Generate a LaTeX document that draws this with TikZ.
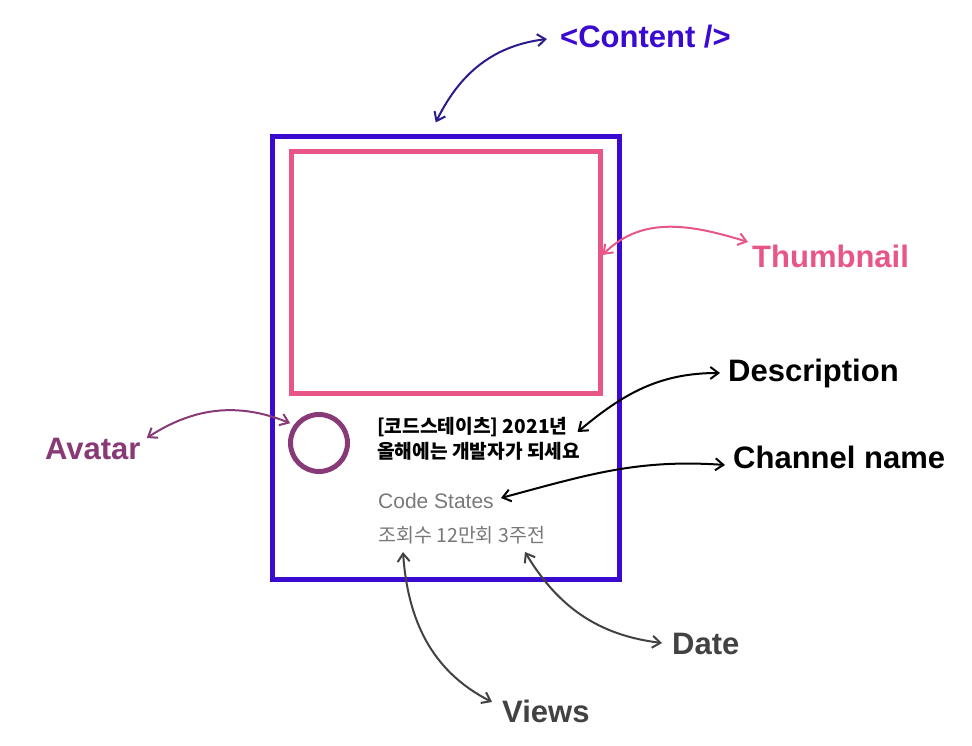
\documentclass[tikz,border=0pt]{standalone}
\usepackage{fontspec}
\setmainfont{Liberation Sans}
\newfontfamily\krfont{Noto Sans CJK KR}
\usetikzlibrary{arrows.meta}
\definecolor{contentblue}{RGB}{58,10,208}
\definecolor{contentnavy}{RGB}{42,28,140}
\definecolor{thumbpink}{RGB}{232,86,136}
\definecolor{avatarplum}{RGB}{135,58,118}
\definecolor{metagray}{RGB}{120,120,120}
\definecolor{notegray}{RGB}{66,66,66}

\begin{document}
\begin{tikzpicture}[x=1pt, y=1pt,
    >={Straight Barb[length=8pt,width=12pt]},
    cardbox/.style={draw=contentblue, line width=5pt, minimum width=347.5pt, minimum height=443pt, inner sep=0pt},
    thumbbox/.style={draw=thumbpink, line width=5pt, minimum width=308.5pt, minimum height=242pt, inner sep=0pt},
    ring/.style={draw=avatarplum, circle, line width=5pt, minimum size=57pt, inner sep=0pt},
    tag/.style={font=\fontsize{31}{36}\selectfont\bfseries, inner sep=0pt, anchor=base west},
    cardtxt/.style={font=\krfont\fontsize{19.5}{23}\selectfont, inner sep=0pt, anchor=base west},
    desctxt/.style={cardtxt, font=\krfont\bfseries\fontsize{19.2}{23}\selectfont},
    link/.style={<->, line width=2pt},
  ]
  \useasboundingbox (0,0) rectangle (972,746);
  % the card and its parts
  \node[cardbox] (card) at (445.75,387.5) {};
  \node[thumbbox] (thumb) at (445.75,473.5) {};
  \node[ring] (avatar) at (319,303) {};
  \node[desctxt] (desc) at (377,312) {[코드스테이츠] 2021년};
  \node[desctxt] (descb) at (377,287) {올해에는 개발자가 되세요};
  \node[cardtxt, font=\fontsize{21}{24}\selectfont, text=metagray] (chan) at (378,237) {Code States};
  \node[cardtxt, text=metagray] (stats) at (378,203) {조회수 12만회 3주전};
  % labels
  \node[tag, text=contentblue] (content) at (560,698) {<Content />};
  \node[tag, text=thumbpink] (thumblbl) at (752,478) {Thumbnail};
  \node[tag] (desclbl) at (728,364) {Description};
  \node[tag] (chanlbl) at (733,277) {Channel name};
  \node[tag, text=avatarplum] (avatarlbl) at (45,286) {Avatar};
  \node[tag, text=notegray] (datelbl) at (672,91) {Date};
  \node[tag, text=notegray] (viewslbl) at (502,23) {Views};
  % connectors
  \draw[link, contentnavy] ([shift={(-10,12)}]card.north) to[out=64,in=187] ([shift={(-13,9)}]content.base west);
  \draw[link, thumbpink] ([shift={(0,17.5)}]thumb.east) to[out=45,in=163] ([shift={(-4,26)}]thumblbl.base west);
  \draw[link, avatarplum] ([shift={(6,22)}]avatarlbl.base east) to[out=33,in=158] ([shift={(-3.5,2)}]avatar.145);
  \draw[link] ([shift={(10,2)}]desc.base east) to[out=40,in=180] ([shift={(-8,9)}]desclbl.base west);
  \draw[link] ([shift={(7,11)}]chan.base east) to[out=15,in=176] ([shift={(-8,4)}]chanlbl.base west);
  \draw[link, notegray] ([shift={(25,-9)}]stats.base west) to[out=-86,in=153] ([shift={(-10,21)}]viewslbl.base west);
  \draw[link, notegray] ([shift={(147,-9)}]stats.base west) to[out=-59,in=173] ([shift={(-10,12)}]datelbl.base west);
\end{tikzpicture}
\end{document}
